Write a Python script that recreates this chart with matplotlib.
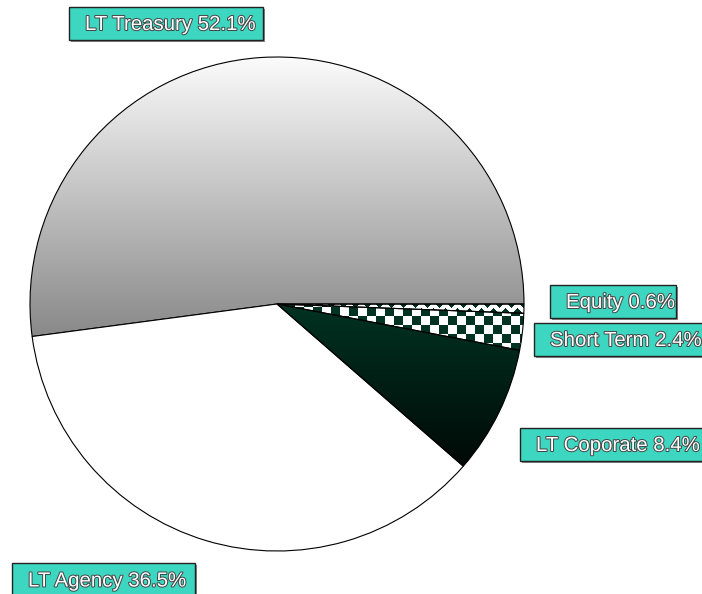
import numpy as np
import matplotlib.pyplot as plt
import matplotlib.patheffects as pe
from matplotlib.colors import LinearSegmentedColormap, ListedColormap

# data
kategori = ['LT Treasury', 'LT Agency', 'LT Coporate', 'Short Term', 'Equity']
persen = [52.1, 36.5, 8.4, 2.4, 0.6]

# posisi kotak label (x kiri, y atas, lebar, tinggi) dalam piksel gambar
kotak = [(69, 7, 194, 33), (12, 563, 183, 34), (520, 428, 190, 33),
         (534, 323, 180, 33), (550, 285, 126, 33)]

W, H = 702, 594
hijau = '#003322'

fig = plt.figure(figsize=(W / 100, H / 100), dpi=100)
ax = fig.add_axes([0, 0, 1, 1])

cx, cy, r = 277, H - 304, 247
wedges, _ = ax.pie(persen, center=(cx, cy), radius=r, startangle=0,
                   counterclock=True, frame=True,
                   wedgeprops=dict(edgecolor='black', linewidth=0.8))

# LT Treasury: gradasi abu-abu
w = wedges[0]
w.set_facecolor('none')
grad = np.linspace(0, 1, 256).reshape(-1, 1)
cmap_abu = LinearSegmentedColormap.from_list('abu', ['#fbfbfb', '#888888'])
im = ax.imshow(grad, cmap=cmap_abu, aspect='auto',
               extent=(cx - r, cx + r, cy - 34, cy + r), origin='upper', zorder=0.5)
im.set_clip_path(w)

# LT Agency: putih
wedges[1].set_facecolor('white')

# LT Coporate: gradasi hijau tua ke hitam
w = wedges[2]
w.set_facecolor('none')
cmap_hijau = LinearSegmentedColormap.from_list('hijau', ['#003322', '#000806'])
im = ax.imshow(grad, cmap=cmap_hijau, aspect='auto',
               extent=(cx, cx + r, cy - 166, cy), origin='upper', zorder=0.5)
im.set_clip_path(w)

# Short Term: papan catur
w = wedges[3]
w.set_facecolor('none')
yy, xx = np.mgrid[0:120, 0:260]
catur = ((xx // 9 + yy // 9) % 2).astype(float)
im = ax.imshow(catur, cmap=ListedColormap(['white', hijau]), aspect='auto',
               interpolation='nearest', extent=(cx, cx + 260, cy - 60, cy + 60),
               origin='upper', zorder=0.5)
im.set_clip_path(w)

# Equity: zigzag
w = wedges[4]
w.set_facecolor('none')
yy, xx = np.mgrid[0:40, 0:260]
zig = (((yy + np.abs((xx % 12) - 6)) // 6) % 2).astype(float)
im = ax.imshow(zig, cmap=ListedColormap(['white', hijau]), aspect='auto',
               interpolation='nearest', extent=(cx, cx + 260, cy - 20, cy + 20),
               origin='upper', zorder=0.5)
im.set_clip_path(w)

for wd in wedges:
    wd.set_zorder(1)

# label
for nama, p, (x0, y0, bw, bh) in zip(kategori, persen, kotak):
    ax.add_patch(plt.Rectangle((x0 + 2, H - y0 - bh - 2), bw, bh,
                               facecolor='#888888', edgecolor='none', zorder=2))
    ax.add_patch(plt.Rectangle((x0, H - y0 - bh), bw, bh, facecolor='#3dd6c0',
                               edgecolor='#222222', linewidth=1, zorder=3))
    ax.text(x0 + 16, H - y0 - bh / 2 - 1, f'{nama} {p}%', fontsize=14.7,
            family='Liberation Sans', color='white', ha='left', va='center',
            zorder=4,
            path_effects=[pe.withStroke(linewidth=1.4, foreground='#444444')])

ax.set_xlim(0, W)
ax.set_ylim(0, H)
ax.set_aspect('auto')
ax.axis('off')
fig.savefig('out.png', dpi=100)
